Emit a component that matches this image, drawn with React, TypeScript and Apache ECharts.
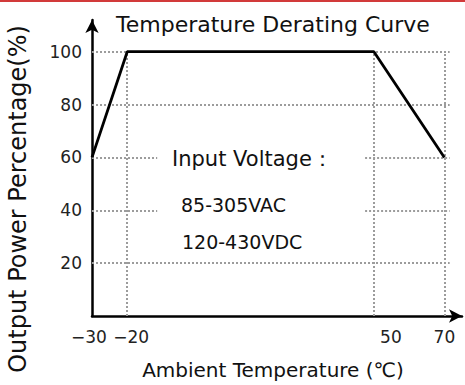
import React, { useEffect, useRef } from "react";
import * as echarts from "echarts";

const temperatures = [-30, -20, 50, 70];
const powerPercent = [60, 100, 100, 60];
const xTickLabels = [-30, -20, 50, 70];
const yTickLabels = [20, 40, 60, 80, 100];
const verticalGuides = [-20, 50, 70];
const fullHorizontalGuides = [20, 80, 100];
const brokenHorizontalGuides = [40, 60];
const guideGap = [-11.5, 47.5];
const inputVoltageLines = ["Input Voltage：", "85-305VAC", "120-430VDC"];

export default function App() {
  const ref = useRef<HTMLDivElement>(null);
  useEffect(() => {
    if (!ref.current) return;
    const chart = echarts.init(ref.current, null, { renderer: "svg" });
    const font = "'DejaVu Sans', 'Liberation Sans', sans-serif";
    const guideStyle = { type: "dotted", color: "#9c9c9c", width: 2 };
    const markData: any[] = [];
    fullHorizontalGuides.forEach((v) => {
      markData.push([{ coord: [-30, v] }, { coord: [71.5, v] }]);
    });
    brokenHorizontalGuides.forEach((v) => {
      markData.push([{ coord: [-30, v] }, { coord: [guideGap[0], v] }]);
      markData.push([{ coord: [guideGap[1], v] }, { coord: [71.5, v] }]);
    });
    verticalGuides.forEach((t) => {
      markData.push([{ coord: [t, 0] }, { coord: [t, 100] }]);
    });
    chart.setOption({
      animation: false,
      backgroundColor: "#ffffff",
      grid: { left: 92, right: 3, top: 20, bottom: 62, containLabel: false },
      xAxis: {
        type: "value",
        min: -30,
        max: 75,
        name: "Ambient Temperature (℃)",
        nameLocation: "middle",
        nameGap: 44,
        nameTextStyle: { fontFamily: font, fontSize: 20, color: "#111", padding: [0, 8, 0, 0] },
        axisLine: {
          show: true,
          onZero: false,
          symbol: ["none", "arrow"],
          symbolSize: [10, 13],
          lineStyle: { color: "#000", width: 2.5 },
        },
        axisTick: { show: false },
        splitLine: { show: false },
        axisLabel: {
          customValues: xTickLabels,
          fontFamily: font,
          fontSize: 17,
          color: "#222",
          margin: 12,
          formatter: (v: number) => {
            const s = String(v).replace("-", "−");
            if (v === 50) return "{r|" + s + "}";
            if (v === -30) return "{l|" + s + "}";
            if (v === -20) return "{m|" + s + "}";
            return s;
          },
          rich: {
            r: { fontFamily: font, fontSize: 17, color: "#222", padding: [0, 0, 0, 34] },
            l: { fontFamily: font, fontSize: 17, color: "#222", padding: [0, 6, 0, 0] },
            m: { fontFamily: font, fontSize: 17, color: "#222", padding: [0, 0, 0, 8] },
          },
        },
      },
      yAxis: {
        type: "value",
        min: 0,
        max: 112,
        axisLine: {
          show: true,
          onZero: false,
          symbol: ["none", "arrow"],
          symbolSize: [10, 13],
          lineStyle: { color: "#000", width: 2.5 },
        },
        axisTick: { show: false },
        splitLine: { show: false },
        axisLabel: {
          customValues: yTickLabels,
          fontFamily: font,
          fontSize: 17,
          color: "#222",
          margin: 10,
        },
      },
      series: [
        {
          type: "line",
          data: temperatures.map((t, i) => [t, powerPercent[i]]),
          showSymbol: false,
          symbol: "none",
          lineStyle: { color: "#000", width: 2.8 },
          z: 5,
          markLine: {
            silent: true,
            symbol: ["none", "none"],
            label: { show: false },
            lineStyle: guideStyle,
            data: markData,
            z: 1,
          },
        },
      ],
      graphic: [
        {
          type: "rect",
          shape: { x: 0, y: 0, width: 465, height: 2 },
          style: { fill: "#d23a3a" },
        },
        {
          type: "text",
          x: 18,
          y: 199,
          rotation: Math.PI / 2,
          style: {
            text: "Output Power Percentage(%)",
            font: `24px ${font}`,
            fill: "#111",
            align: "center",
            verticalAlign: "middle",
          },
        },
        {
          type: "text",
          left: 116,
          top: 13,
          style: { text: "Temperature Derating Curve", font: `22px ${font}`, fill: "#111" },
        },
        {
          type: "text",
          left: 172,
          top: 148,
          style: { text: inputVoltageLines[0], font: `21px ${font}`, fill: "#111" },
        },
        {
          type: "text",
          left: 181,
          top: 195,
          style: { text: inputVoltageLines[1], font: `19px ${font}`, fill: "#111" },
        },
        {
          type: "text",
          left: 182,
          top: 232,
          style: { text: inputVoltageLines[2], font: `19px ${font}`, fill: "#111" },
        },
      ],
    });
    return () => chart.dispose();
  }, []);
  return <div ref={ref} style={{ width: 465, height: 385, position: "absolute", left: 0, top: 0 }} />;
}
